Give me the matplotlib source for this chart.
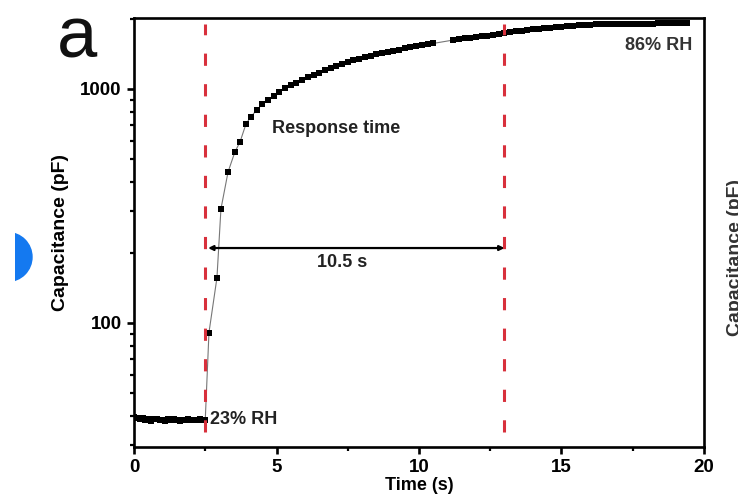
import numpy as np
import matplotlib
matplotlib.use("Agg")
import matplotlib.pyplot as plt
from matplotlib.patches import Circle, Rectangle

plt.rcParams['font.family'] = ['Liberation Sans', 'DejaVu Sans']
plt.rcParams['font.weight'] = 'bold'

# capacitance at 23% RH before the humidity step (0 - 2.5 s, 0.1 s steps)
t_base = np.round(np.arange(0.0, 2.55, 0.1), 2)
c_base = [39.6, 39.1, 38.7, 39.3, 38.5, 38.9, 38.2, 38.8, 39.0, 38.4,
          38.6, 38.1, 38.7, 38.3, 38.9, 38.5, 38.2, 38.6, 38.4, 38.8,
          38.3, 38.6, 38.5, 38.7, 38.4, 38.6]

# fast rise right after switching to 86% RH
t_rise = [2.63, 2.91, 3.05, 3.30, 3.54, 3.72, 3.93]
c_rise = [91, 156, 307, 442, 538, 594, 709]

# slow approach to saturation (0.2 s steps, no samples around 10.8 - 11.0 s)
t_slow1 = np.round(np.arange(4.1, 10.65, 0.2), 2)
c_slow1 = [760, 812, 860, 900, 937, 973, 1006, 1036, 1064, 1092,
           1120, 1148, 1175, 1200, 1225, 1250, 1278, 1305, 1326, 1346,
           1366, 1386, 1405, 1423, 1440, 1457, 1473, 1489, 1505, 1520,
           1535, 1550, 1565]
t_slow2 = np.round(np.arange(11.2, 19.45, 0.2), 2)
c_slow2 = [1618, 1632, 1645, 1657, 1668, 1680, 1692, 1705, 1720, 1736,
           1748, 1760, 1772, 1784, 1795, 1806, 1816, 1826, 1835, 1845,
           1854, 1862, 1870, 1877, 1884, 1890, 1895, 1898, 1900, 1901,
           1902, 1902, 1903, 1903, 1904, 1904, 1905, 1905, 1905, 1906,
           1906, 1906]

t_on = 2.5
response_time = 10.5
t_off = t_on + response_time

fig = plt.figure(figsize=(7.38, 5.0), dpi=100)
ax = fig.add_axes([0.1816, 0.106, 0.7723, 0.858])

t_all = list(t_base) + t_rise + list(t_slow1) + list(t_slow2)
c_all = c_base + c_rise + c_slow1 + c_slow2
ax.plot(t_all, c_all, color='#777777', lw=0.8, zorder=2)
ax.plot(t_all, c_all, ls='none', marker='s', ms=5, color='black',
        markeredgewidth=0, zorder=3)

red = '#d8303c'
ax.axvline(t_on, ymin=0.035, ymax=0.985, color=red, lw=2.2,
           ls=(0, (4, 6)), zorder=4)
ax.axvline(t_off, ymin=0.035, ymax=0.985, color=red, lw=2.2,
           ls=(0, (4, 6)), zorder=4)

ax.annotate('', xy=(t_on + 0.1, 209), xytext=(t_off, 209),
            arrowprops=dict(arrowstyle='<|-|>', color='black', lw=1.6,
                            mutation_scale=7, shrinkA=0, shrinkB=0))
ax.text(t_on + response_time / 2 - 0.45, 182, f'{response_time} s',
        ha='center', va='center', fontsize=13, fontweight='bold', color='#222222')
ax.text(4.84, 680, 'Response time', ha='left', va='center',
        fontsize=13, fontweight='bold', color='#222222')
ax.text(2.67, 38.5, '23% RH', ha='left', va='center',
        fontsize=13, fontweight='bold', color='#222222')
ax.text(19.6, 1540, '86% RH', ha='right', va='center',
        fontsize=13, fontweight='bold', color='#333333')

ax.set_yscale('log')
ax.set_xlim(0, 20)
ax.set_ylim(29.5, 2010)
ax.set_xticks([0, 5, 10, 15, 20])
ax.set_xticks([2.5, 7.5, 12.5, 17.5], minor=True)
ax.set_yticks([100, 1000])
ax.set_yticklabels(['100', '1000'])
ax.yaxis.set_minor_formatter(matplotlib.ticker.NullFormatter())

for s in ax.spines.values():
    s.set_linewidth(1.9)
ax.tick_params(which='major', direction='out', length=5, width=1.9,
               labelsize=13.5, pad=4, top=False, right=False)
ax.tick_params(which='minor', direction='out', length=3, width=1.6,
               top=False, right=False)
for lab in ax.get_xticklabels() + ax.get_yticklabels():
    lab.set_fontweight('bold')

ax.set_xlabel('Time (s)', fontsize=13, fontweight='bold', labelpad=0)
ax.set_ylabel('Capacitance (pF)', fontsize=14, fontweight='bold', labelpad=8)

fig.text(0.077, 0.922, 'a', fontsize=52, fontweight='normal',
         ha='left', va='center', color='#111111')

# edge of the neighbouring panel
fig.text(0.997, 0.485, 'Capacitance (pF)', rotation=90, fontsize=14,
         fontweight='bold', ha='center', va='center', color='#333333')
blob = Circle((7.5, 243), 24.5, transform=None, color='#1479f0', zorder=5)
clip = Rectangle((15, 0), 800, 500, transform=None)
fig.patches.append(blob)
blob.set_figure(fig)
blob.set_clip_path(clip)

fig.savefig('out.png', dpi=100)
